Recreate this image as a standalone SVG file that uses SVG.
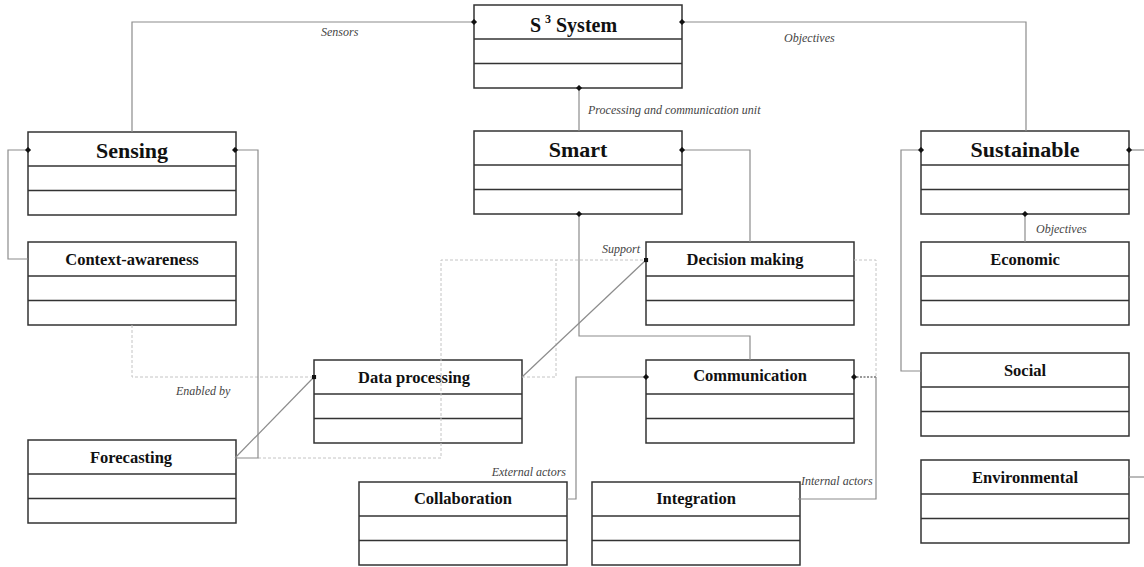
<svg xmlns="http://www.w3.org/2000/svg" width="1144" height="567" viewBox="0 0 1144 567">
  <style>
    .box { fill: #fff; stroke: #333; stroke-width: 1.5; }
    .sep { stroke: #333; stroke-width: 1.5; }
    .title { font-family: "Liberation Serif", "Times New Roman", serif; font-weight: bold; font-size: 16.5px; fill: #111; text-anchor: middle; }
    .big { font-size: 22px; }
    .lbl { font-family: "Liberation Serif", "Times New Roman", serif; font-style: italic; font-size: 12px; fill: #444; }
    .link { fill: none; stroke: #8c8c8c; stroke-width: 1.2; }
    .dash { fill: none; stroke: #c4c4c4; stroke-width: 1; stroke-dasharray: 3 2; }
    .dark { fill: none; stroke: #333; stroke-width: 1; stroke-dasharray: 2 1.5; }
  </style>
  <defs>
    <marker id="diamond" viewBox="-4 -4 8 8" markerWidth="7" markerHeight="7" refX="0" refY="0" markerUnits="userSpaceOnUse">
      <path d="M-3.5 0 L0 -3.5 L3.5 0 L0 3.5 Z" fill="#111"/>
    </marker>
    <marker id="square" viewBox="-3 -3 6 6" markerWidth="5" markerHeight="5" refX="0" refY="0" markerUnits="userSpaceOnUse">
      <rect x="-2.5" y="-2.5" width="5" height="5" fill="#111"/>
    </marker>
    <!-- class box: header + two compartments -->
    <g id="cls">
      <rect class="box" x="0" y="0" width="208" height="83"/>
      <line class="sep" x1="0" y1="34" x2="208" y2="34"/>
      <line class="sep" x1="0" y1="58.5" x2="208" y2="58.5"/>
    </g>
  </defs>

  <rect width="1144" height="567" fill="#fff"/>

  <!-- nodes -->
  <g id="s3-system">
    <use href="#cls" x="474" y="5"/>
    <text class="title" font-size="20" style="text-anchor:start;font-size:20px" x="530" y="32">S<tspan x="545" dy="-9" style="font-size:12px">3</tspan><tspan x="556" dy="9">System</tspan></text>
  </g>
  <g id="sensing">
    <use href="#cls" x="28" y="132"/>
    <text class="title big" x="132" y="158">Sensing</text>
  </g>
  <g id="smart">
    <use href="#cls" x="474" y="131"/>
    <text class="title big" x="578" y="157">Smart</text>
  </g>
  <g id="sustainable">
    <use href="#cls" x="921" y="131"/>
    <text class="title big" x="1025" y="157">Sustainable</text>
  </g>
  <g id="context-awareness">
    <use href="#cls" x="28" y="242"/>
    <text class="title" x="132" y="265">Context-awareness</text>
  </g>
  <g id="decision-making">
    <use href="#cls" x="646" y="242"/>
    <text class="title" x="745" y="265">Decision making</text>
  </g>
  <g id="economic">
    <use href="#cls" x="921" y="242"/>
    <text class="title" x="1025" y="265">Economic</text>
  </g>
  <g id="social">
    <use href="#cls" x="921" y="353"/>
    <text class="title" x="1025" y="376">Social</text>
  </g>
  <g id="data-processing">
    <use href="#cls" x="314" y="360"/>
    <text class="title" x="414" y="383">Data processing</text>
  </g>
  <g id="communication">
    <use href="#cls" x="646" y="360"/>
    <text class="title" x="750" y="381">Communication</text>
  </g>
  <g id="forecasting">
    <use href="#cls" x="28" y="440"/>
    <text class="title" x="131" y="463">Forecasting</text>
  </g>
  <g id="environmental">
    <use href="#cls" x="921" y="460"/>
    <text class="title" x="1025" y="483">Environmental</text>
  </g>
  <g id="collaboration">
    <use href="#cls" x="359" y="482"/>
    <text class="title" x="463" y="504">Collaboration</text>
  </g>
  <g id="integration">
    <use href="#cls" x="592" y="482"/>
    <text class="title" x="696" y="504">Integration</text>
  </g>

  <!-- connectors -->
  <g id="connectors">
    <!-- dotted dependencies -->
    <path class="dash" d="M132 325 V377 H314"/>
    <path class="dash" d="M258 458 H441 V260 H646"/>
    <path class="dash" d="M522 377 H556 V260"/>
    <path class="dash" d="M854 260 H876 V377"/>

    <!-- S3 System associations -->
    <path class="link" d="M474 22 H132 V132" marker-start="url(#diamond)"/>
    <path class="link" d="M682 22 H1026 V131" marker-start="url(#diamond)"/>
    <path class="link" d="M579 88 V131" marker-start="url(#diamond)"/>

    <!-- Sensing -->
    <path class="link" d="M28 150 H8 V259 H28" marker-start="url(#diamond)"/>
    <path class="link" d="M235 150 H258 V458 H235" marker-start="url(#diamond)"/>

    <!-- Smart -->
    <path class="link" d="M682 150 H750 V242" marker-start="url(#diamond)"/>
    <path class="link" d="M579 214 V336 H750 V360" marker-start="url(#diamond)"/>

    <!-- processing chain -->
    <path class="link" d="M235 458 L314 377" marker-end="url(#square)"/>
    <path class="link" d="M522 377 L646 260" marker-end="url(#square)"/>

    <!-- Communication -->
    <path class="link" d="M646 377 H576 V499 H567" marker-start="url(#diamond)"/>
    <path class="dark" d="M876 377 H854"/>
    <path class="link" d="M876 377 V499 H798"/>
    <path d="M854 377 h0" class="link" marker-start="url(#diamond)"/>

    <!-- Sustainable -->
    <path class="link" d="M921 150 H901 V371 H921" marker-start="url(#diamond)"/>
    <path class="link" d="M1129 150 H1150" marker-start="url(#diamond)"/>
    <path class="link" d="M1129 477 H1150"/>
    <path class="link" d="M1025 214 V242" marker-start="url(#diamond)"/>

    <!-- labels -->
    <text class="lbl" x="321" y="36">Sensors</text>
    <text class="lbl" x="784" y="42">Objectives</text>
    <text class="lbl" x="588" y="114">Processing and communication unit</text>
    <text class="lbl" x="1036" y="233">Objectives</text>
    <text class="lbl" x="640" y="253" text-anchor="end">Support</text>
    <text class="lbl" x="176" y="395">Enabled by</text>
    <text class="lbl" x="566" y="476" text-anchor="end">External actors</text>
    <text class="lbl" x="801" y="485">Internal actors</text>
  </g>
</svg>
